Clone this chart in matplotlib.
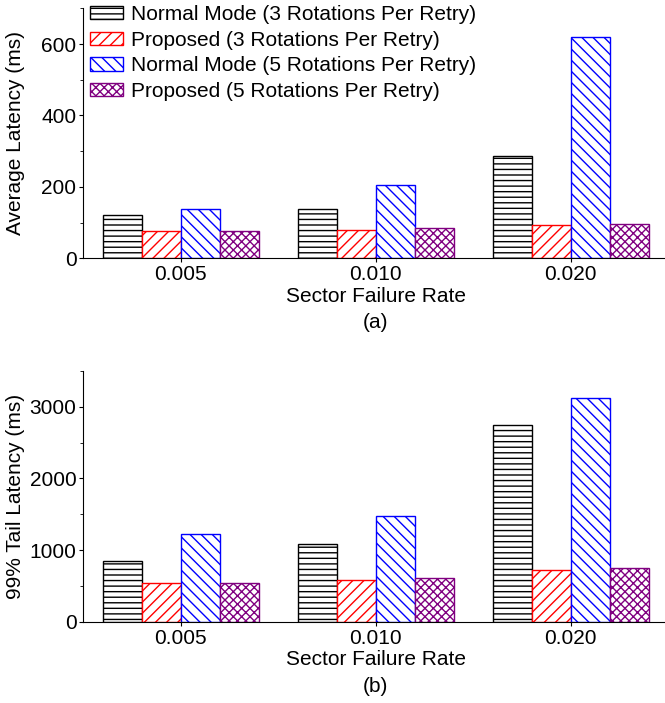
import matplotlib
matplotlib.use("Agg")
import matplotlib.pyplot as plt
import numpy as np
from matplotlib.ticker import MultipleLocator

plt.rcParams["font.family"] = ["Liberation Sans", "DejaVu Sans"]
plt.rcParams["hatch.linewidth"] = 1.0

# data
rates = ["0.005", "0.010", "0.020"]
series = [
    "Normal Mode (3 Rotations Per Retry)",
    "Proposed (3 Rotations Per Retry)",
    "Normal Mode (5 Rotations Per Retry)",
    "Proposed (5 Rotations Per Retry)",
]
avg_latency = [
    [121, 138, 287],   # normal, 3 rotations
    [75, 78, 92],      # proposed, 3 rotations
    [137, 204, 620],   # normal, 5 rotations
    [77, 84, 95],      # proposed, 5 rotations
]
tail_latency = [
    [840, 1078, 2744],
    [541, 583, 723],
    [1227, 1470, 3117],
    [541, 611, 751],
]

colors = ["black", "red", "blue", "purple"]
hatches = ["---", "///", "\\\\\\", "xxxx"]
FS = 15

fig = plt.figure(figsize=(6.65, 7.03), dpi=100)
ax_a = fig.add_axes([0.1253, 0.6326, 0.8797, 0.3556])
ax_b = fig.add_axes([0.1253, 0.1157, 0.8797, 0.3566])

x = np.arange(len(rates))
w = 0.2
offsets = [-1.5 * w, -0.5 * w, 0.5 * w, 1.5 * w]


def draw(ax, data, ylabel, ylim, major, minor, tag):
    for vals, off, c, h, name in zip(data, offsets, colors, hatches, series):
        ax.bar(x + off, vals, w, facecolor="white", edgecolor=c,
               hatch=h, linewidth=1.0, label=name)
    ax.set_xlim(-0.5, 2.5)
    ax.set_ylim(*ylim)
    ax.set_xticks(x)
    ax.set_xticklabels(rates)
    ax.yaxis.set_major_locator(MultipleLocator(major))
    ax.yaxis.set_minor_locator(MultipleLocator(minor))
    ax.spines["top"].set_visible(False)
    ax.spines["right"].set_visible(False)
    ax.tick_params(axis="both", which="major", direction="out", length=3,
                   labelsize=FS, pad=2)
    ax.tick_params(axis="y", which="minor", direction="out", length=2)
    ax.set_ylabel(ylabel, fontsize=FS)
    ax.yaxis.set_label_coords(-0.10, 0.5)
    ax.set_xlabel("Sector Failure Rate", fontsize=FS, labelpad=2)
    ax.text(0.5, -0.258, tag, transform=ax.transAxes, ha="center",
            va="center", fontsize=FS)


draw(ax_a, avg_latency, "Average Latency (ms)", (0, 700), 200, 100, "(a)")
draw(ax_b, tail_latency, "99% Tail Latency (ms)", (0, 3500), 1000, 500, "(b)")

ax_a.legend(loc="upper left", bbox_to_anchor=(89 / 665, 1 - 4 / 703),
            bbox_transform=fig.transFigure, frameon=False, fontsize=FS,
            handlelength=1.6, handleheight=0.6, handletextpad=0.35,
            labelspacing=0.32, borderpad=0.05, borderaxespad=0)

fig.savefig("out.png", dpi=100)
